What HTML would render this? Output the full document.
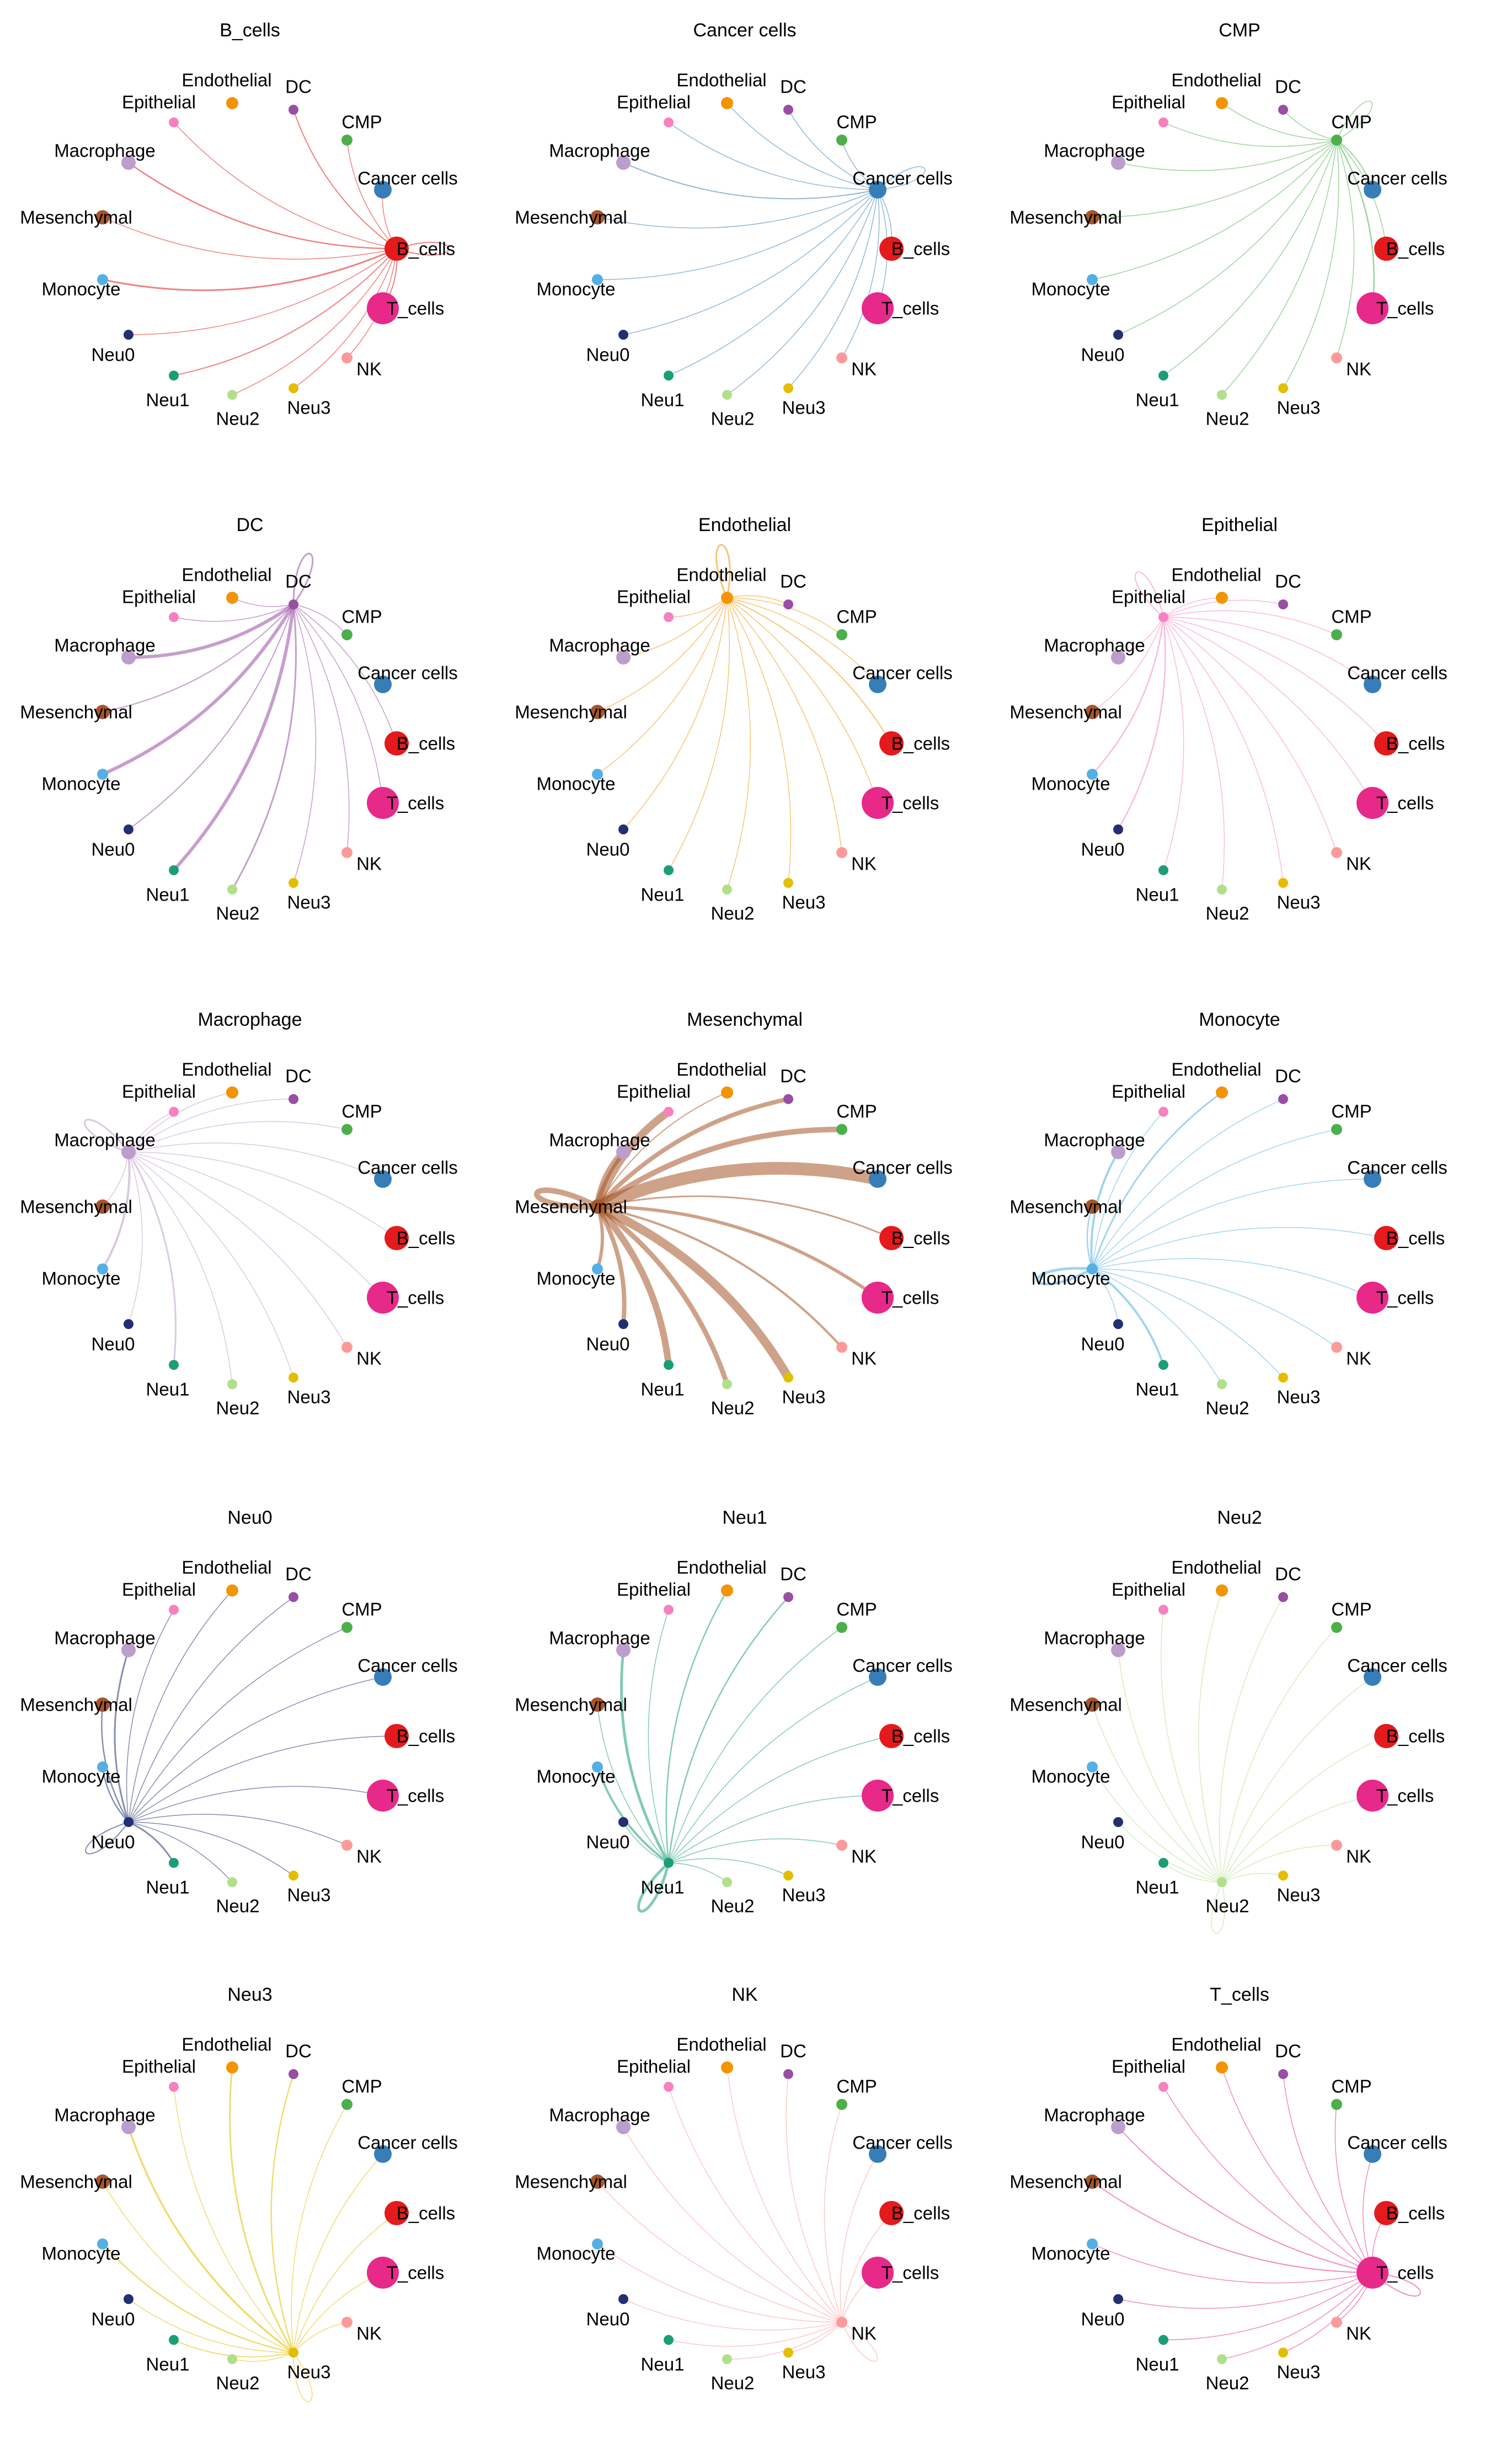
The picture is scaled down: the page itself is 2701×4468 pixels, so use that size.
<!DOCTYPE html>
<html><head><meta charset="utf-8"><style>
html,body{margin:0;padding:0;background:#fff;}
svg{display:block;}
text{font-family:"Liberation Sans",Arial,sans-serif;fill:#000;}
</style></head><body>
<svg id="chart" width="2701" height="4468" viewBox="0 0 2701 4468" xmlns="http://www.w3.org/2000/svg"></svg>
<script>
// Data: cell types (node order), colors, node sizes, and per-panel edge weights
const cellTypes = ["B_cells","Cancer cells","CMP","DC","Endothelial","Epithelial","Macrophage","Mesenchymal","Monocyte","Neu0","Neu1","Neu2","Neu3","NK","T_cells"];
const cellColors = ["#E41A1C","#377EB8","#4DAF4A","#984EA3","#F29403","#F781BF","#BC9DCC","#A65628","#54B0E4","#222F75","#1B9E77","#B2DF8A","#E3BE00","#FB9A99","#E7298A"];
const nodeSizes = [22,16,10,9,11,9,13,13,10,9,9,9,9,10,29];
// edge widths from panel source (row) to each target (column), same order as cellTypes
const wB_cells      = [2,1.5,1.5,2,0,1.5,2.5,1.5,3,1.5,2,1.5,1.5,1.5,2];
const wCancer       = [1.5,1.5,1.5,1.5,1.5,1.5,2,1.5,1.5,1.5,1.5,1.5,1.5,1.5,1.5];
const wCMP          = [1.5,2,1.5,1.5,1.5,1.5,1.5,1.5,1.5,1.5,1.5,1.5,1.5,1.5,2.5];
const wDC           = [1.5,0,1.5,3,1.5,1.5,6,2,6,2,6,3,1.5,1.5,1.5];
const wEndothelial  = [2,1.5,1.5,1.5,3,1.5,1.5,1.5,1.5,1.5,1.5,1.5,1.5,1.5,1.5];
const wEpithelial   = [1.5,1.5,1.5,1.5,1.5,2,1.5,1.5,2.5,2.5,1.5,1.5,1.5,1.5,1.5];
const wMacrophage   = [1.5,1.5,1.5,1.5,1.5,1.5,3,1.5,4,1.5,3,1.5,1.5,1.5,1.5];
const wMesenchymal  = [3,23,10,8,2,14,12,10,6,8,12,9,16,4,6];
const wMonocyte     = [1.5,1.5,1.5,1.5,3,1.5,4,2.5,5,1.5,4,1.5,1.5,1.5,1.5];
const wNeu0         = [1.5,1.5,1.5,1.5,1.5,1.5,3,2.5,2.5,2,3,1.5,1.5,1.5,1.5];
const wNeu1         = [1.5,1.5,1.5,2.5,2.5,1.5,5,1.5,4,1.5,5,1.5,1.5,1.5,1.5];
const wNeu2         = [1.5,1.5,1.5,1.5,1.5,1.5,1.5,1.5,1.5,1.5,1.5,1.5,1.5,1.5,1.5];
const wNeu3         = [1.5,1.5,1.5,2.5,3,1.5,3.5,1.5,2.5,1.5,2,1.5,1.5,1.5,1.5];
const wNK           = [1.5,1.5,1.5,1.5,1.5,1.5,1.5,1.5,1.5,1.5,1.5,1.5,1.5,1.5,1.5];
const wT_cells      = [1.5,1.5,1.5,1.5,1.5,1.5,2,2,1.5,1.5,1.5,1.5,1.5,1.5,2];
const panelWeights = [wB_cells,wCancer,wCMP,wDC,wEndothelial,wEpithelial,wMacrophage,wMesenchymal,wMonocyte,wNeu0,wNeu1,wNeu2,wNeu3,wNK,wT_cells];

// Layout (not data)
const nodePos = [[719,451],[694,344],[629,254],[532,199],[421,187],[315,222],[233,295],[186,394],[186,507],[233,607],[315,681],[421,716],[532,704],[629,649],[694,559]];
const labelPos = [[772,451],[739,323],[656,221],[541,157],[411,145],[288,185],[190,273],[138,394],[147,524],[205,643],[304,725],[431,759],[560,739],[669,669],[753,559]];
const colX = [0,897,1794];
const rowY = [0,897,1794,2697,3562];
const center = [451,451];
const NS = "http://www.w3.org/2000/svg";
const svg = document.getElementById('chart');
function mk(tag, attrs){const e=document.createElementNS(NS,tag);for(const k in attrs)e.setAttribute(k,attrs[k]);return e;}

cellTypes.forEach((src, p) => {
  const ox = colX[p%3], oy = rowY[Math.floor(p/3)];
  const g = mk('g', {transform:`translate(${ox},${oy})`});
  
  
  const title = mk('text', {x:453, y:55, 'font-size':34, 'text-anchor':'middle', 'dominant-baseline':'central'});
  title.textContent = src;
  
  
  g.appendChild(title);
  const eg = mk('g', {});
  
  
  g.appendChild(eg);
  const w = panelWeights[p];
  const [sx, sy] = nodePos[p];
  w.forEach((wt, t) => {
    if (!wt) return;
    let d;
    if (t === p) {
      const ux = sx-center[0], uy = sy-center[1], L = Math.hypot(ux,uy);
      const nx = ux/L, ny = uy/L, px = -ny, py = nx, len = 120 + wt*3, sp = 40;
      d = `M${sx},${sy} C${sx+nx*len+px*sp},${sy+ny*len+py*sp} ${sx+nx*len-px*sp},${sy+ny*len-py*sp} ${sx},${sy}`;
    } else {
      const [tx, ty] = nodePos[t];
      const dx = tx-sx, dy = ty-sy;
      const cx = (sx+tx)/2 + 0.16*dy, cy = (sy+ty)/2 - 0.16*dx;
      d = `M${sx},${sy} Q${cx},${cy} ${tx},${ty}`;
    }
    const path = mk('path', {d, fill:'none', stroke:cellColors[p], 'stroke-opacity':0.55, 'stroke-width':wt, 'stroke-linecap':'round'});
    
    
    eg.appendChild(path);
  });
  cellTypes.forEach((name, i) => {
    const c = mk('circle', {cx:nodePos[i][0], cy:nodePos[i][1], r:nodeSizes[i], fill:cellColors[i]});
    
    
    g.appendChild(c);
  });
  cellTypes.forEach((name, i) => {
    const tx = mk('text', {x:labelPos[i][0], y:labelPos[i][1], 'font-size':33, 'text-anchor':'middle', 'dominant-baseline':'central'});
    tx.textContent = name;
    
    
    g.appendChild(tx);
  });
  svg.appendChild(g);
});
</script>
</body></html>
